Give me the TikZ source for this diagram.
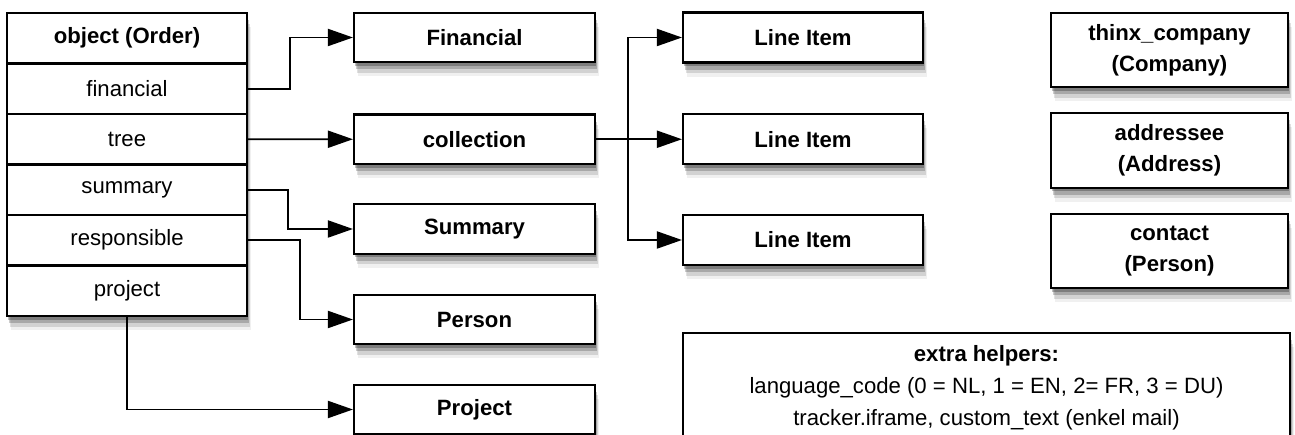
\documentclass[tikz,border=0pt]{standalone}
\usepackage{fontspec}
\setmainfont{Liberation Sans}
\usepackage{tikz}
\usetikzlibrary{arrows.meta, positioning, shadows}
\tikzstyle{arrow} = [-{Triangle[length=0.5cm, width=0.34cm]}, line width=1.1pt]
\tikzstyle{line} = [-, line width=1.1pt]
\tikzstyle{soft shadow} = [drop shadow={shadow xshift=0.5pt, shadow yshift=-2pt, opacity=0.25, fill=black},
                           drop shadow={shadow xshift=1pt, shadow yshift=-4pt, opacity=0.2, fill=black},
                           drop shadow={shadow xshift=1.5pt, shadow yshift=-6pt, opacity=0.12, fill=black},
                           drop shadow={shadow xshift=2pt, shadow yshift=-8pt, opacity=0.06, fill=black}]
\tikzstyle{field} = [draw, line width=1.2pt, fill=white, minimum width=4.8cm, minimum height=1.01cm, inner sep=0pt, outer sep=0pt, font=\fontsize{12.6}{17.5}\selectfont]
\tikzstyle{box} = [draw, line width=1.2pt, fill=white, minimum width=4.82cm, minimum height=0.99cm, inner sep=0pt, font=\fontsize{12.6}{17.5}\selectfont\bfseries, align=center, soft shadow]

\begin{document}
\begin{tikzpicture}[node distance=0pt]

    \fill [white] (0, 0) rectangle (25.9, -8.7);
    \useasboundingbox (0, 0) rectangle (25.9, -8.7);

    % one shadow behind the whole order table
    \path [fill=white, soft shadow] (0.14, -0.26) rectangle (4.94, -6.32);

    % the order object and its fields
    \node [field, font=\fontsize{12.6}{17.5}\selectfont\bfseries] (order) at (2.54, -0.765) {object (Order)};
    \node [field, below=of order] (financial) {financial};
    \node [field, below=of financial] (tree) {tree};
    \node [field, below=of tree] (summary) {summary};
    \node [field, below=of summary] (responsible) {responsible};
    \node [field, below=of responsible] (project) {project};

    % related objects
    \node [box] (financialbox) at (9.49, -0.75) {Financial};
    \node [box] (collection) at (9.49, -2.785) {collection};
    \node [box] (summarybox) at (9.49, -4.58) {Summary};
    \node [box] (person) at (9.49, -6.39) {Person};
    \node [box] (projectbox) at (9.49, -8.19) {Project};

    \node [box, minimum width=4.8cm, minimum height=1.0cm] (item1) at (16.06, -0.75) {Line Item};
    \node [box, minimum width=4.8cm, minimum height=1.0cm] (item2) at (16.06, -2.785) {Line Item};
    \node [box, minimum width=4.8cm, minimum height=1.0cm] (item3) at (16.06, -4.8) {Line Item};

    \node [box, minimum width=4.74cm, minimum height=1.49cm] (company) at (23.39, -1.0) {thinx\_company\\(Company)};
    \node [box, minimum width=4.74cm, minimum height=1.49cm] (addressee) at (23.39, -3.01) {addressee\\(Address)};
    \node [box, minimum width=4.74cm, minimum height=1.49cm] (contact) at (23.39, -5.02) {contact\\(Person)};

    \node [box, font=\fontsize{12.6}{18.3}\selectfont, anchor=north, minimum width=12.14cm, minimum height=2.2cm] (helpers) at (19.73, -6.64)
        {\textbf{extra helpers:}\\language\_code (0 = NL, 1 = EN, 2= FR, 3 = DU)\\tracker.iframe, custom\_text (enkel mail)};

    % connectors
    \draw [arrow] (financial.east) -- ++(0.86, 0) |- (financialbox.west);
    \draw [arrow] (tree.east) -- (collection.west);
    \draw [arrow] (summary.east) -- ++(0.82, 0) |- (summarybox.west);
    \draw [arrow] (responsible.east) -- ++(1.06, 0) |- (person.west);
    \draw [arrow] (project.south) |- (projectbox.west);

    \draw [line] (collection.east) -- ++(0.64, 0) coordinate (split);
    \draw [arrow] (split) |- (item1.west);
    \draw [arrow] (split) -- (item2.west);
    \draw [arrow] (split) |- (item3.west);

\end{tikzpicture}
\end{document}
